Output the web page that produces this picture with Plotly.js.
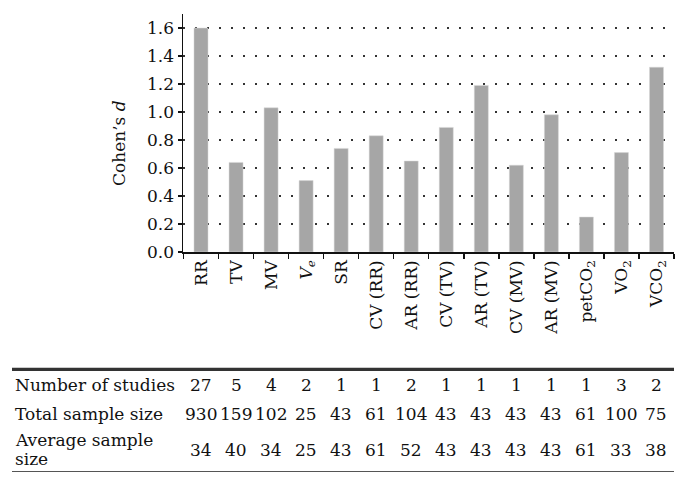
<!DOCTYPE html>
<html><head><meta charset="utf-8">
<script src="https://cdn.plot.ly/plotly-3.0.1.min.js"></script>
<style>html,body{margin:0;padding:0;background:#fff}
#wrap{position:relative;width:689px;height:487px}
#rule{position:absolute;left:12px;top:368px;width:662px;height:2.5px;background:#333;z-index:10;pointer-events:none}
</style>
</head><body>
<div id="wrap"><div id="chart" style="width:689px;height:487px"></div><div id="rule"></div></div>
<script>
var categories = ["RR","TV","MV","<i>V</i><sub><i>e</i></sub>","SR","CV (RR)","AR (RR)","CV (TV)","AR (TV)","CV (MV)","AR (MV)","petCO<sub>2</sub>","VO<sub>2</sub>","VCO<sub>2</sub>"];
var cohensD = [1.60,0.64,1.03,0.51,0.74,0.83,0.65,0.89,1.19,0.62,0.98,0.25,0.71,1.32];
var nStudies = [27,5,4,2,1,1,2,1,1,1,1,1,3,2];
var totalSample = [930,159,102,25,43,61,104,43,43,43,43,61,100,75];
var avgSample = [34,40,34,25,43,61,52,43,43,43,43,61,33,38];
var rowLabels = ["Number of studies","Total sample size","Average sample","size"];

var FONT = "DejaVu Serif";
var FS = 17;
var paperTop = 14, paperBottom = 480, paperLeft = 12, paperRight = 674, plotBottom = 252, plotLeft = 183;
var PH = paperBottom - paperTop, PW = paperRight - paperLeft;
function py(p){ return (paperBottom - p) / PH; }
function px(p){ return (p - paperLeft) / PW; }

var annotations = [];
var rows = [[nStudies,385],[totalSample,413.5],[avgSample,449.5]];
rows.forEach(function(r){
  r[0].forEach(function(v,i){
    annotations.push({x:categories[i], xref:'x', y:py(r[1]), yref:'paper', text:String(v),
      showarrow:false, xanchor:'center', yanchor:'middle', font:{family:FONT,size:FS,color:'#111'}});
  });
});
var labelY = [385,413.5,440,459];
rowLabels.forEach(function(t,i){
  annotations.push({x:px(13), xref:'paper', y:py(labelY[i]), yref:'paper', text:t, showarrow:false,
    xanchor:'left', yanchor:'middle', font:{family:FONT,size:FS,color:'#111'}});
});
annotations.push({x:px(119), xref:'paper', y:py(143), yref:'paper', text:"Cohen’s <i>d</i>", textangle:-90,
  showarrow:false, xanchor:'center', yanchor:'middle', font:{family:FONT,size:FS,color:'#111'}});

var shapes = [
  {type:'line', layer:'above', xref:'paper', yref:'paper', x0:0, x1:1, y0:py(369), y1:py(369), line:{color:'#333333',width:2.5}},
  {type:'line', layer:'above', xref:'paper', yref:'paper', x0:0, x1:1, y0:py(471.5), y1:py(471.5), line:{color:'#555555',width:1}}
];

var trace = {type:'bar', x:categories, y:cohensD, marker:{color:'#a6a6a6', line:{color:'#d8d8d8', width:0.5}}, hoverinfo:'none'};

var layout = {
  width:689, height:487,
  margin:{l:paperLeft, r:689-paperRight, t:paperTop, b:487-paperBottom},
  paper_bgcolor:'#fff', plot_bgcolor:'#fff',
  showlegend:false, bargap:0.6,
  font:{family:FONT, size:FS, color:'#111'},
  xaxis:{domain:[px(plotLeft),1], type:'category', categoryorder:'array', categoryarray:categories,
    tickson:'boundaries', ticks:'outside', ticklen:5, tickwidth:1.5, tickcolor:'#111',
    showline:true, linecolor:'#111', linewidth:1.5, showgrid:false, tickangle:-90,
    tickfont:{family:FONT,size:FS,color:'#111'}, fixedrange:true},
  yaxis:{domain:[py(plotBottom),1], range:[0,1.7], dtick:0.2, tick0:0, tickformat:'.1f', showline:true, linecolor:'#111', linewidth:1.5,
    showgrid:true, gridcolor:'#333', gridwidth:1.5, griddash:'1.5px,10.5px', zeroline:false,
    ticks:'outside', ticklen:4, tickwidth:1.2, tickcolor:'#111',
    tickfont:{family:FONT,size:FS,color:'#111'}, fixedrange:true},
  annotations:annotations, shapes:shapes
};
Plotly.newPlot('chart',[trace],layout,{staticPlot:true, displayModeBar:false});
</script>
</body></html>
